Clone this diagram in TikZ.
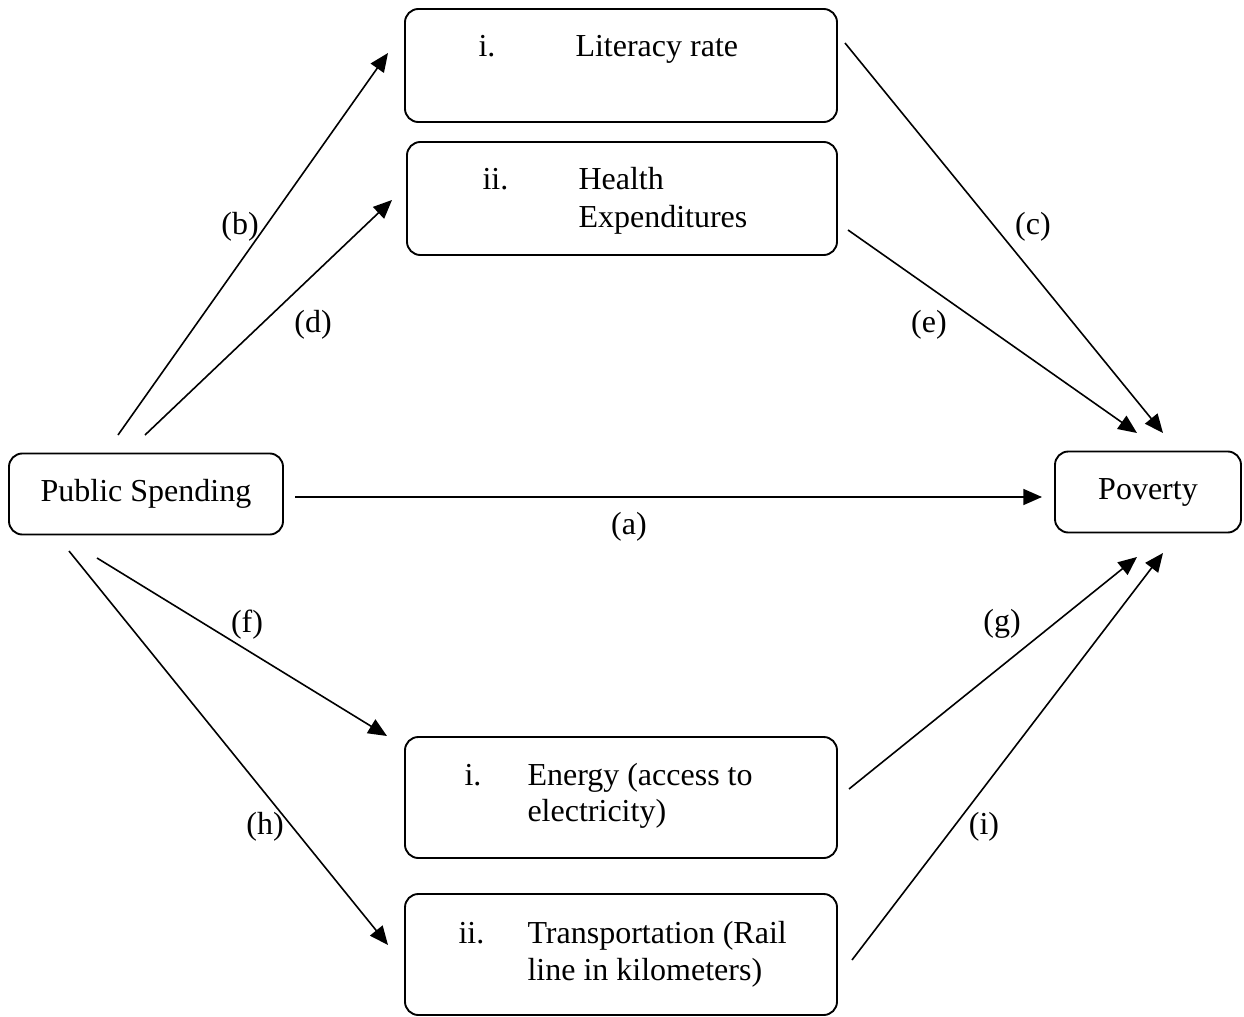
\documentclass[tikz,border=0pt]{standalone}
\usepackage{fontspec}
\setmainfont{Liberation Serif}
\usetikzlibrary{positioning, arrows.meta, fit}

\begin{document}
\begin{tikzpicture}[
  x=0.375pt, y=-0.375pt,
  box/.style={draw, rounded corners=5pt, line width=0.7pt, inner sep=0pt},
  item/.style={anchor=base west, inner sep=0pt, font=\fontsize{12}{14}\selectfont},
  plabel/.style={inner sep=0pt, font=\fontsize{12}{14}\selectfont},
  conn/.style={line width=0.6pt, -{Triangle[length=7pt, width=6pt]}},
]
\useasboundingbox (0,0) rectangle (1244,1017);

% main boxes
\node[box, plabel, minimum width={274*0.375pt}, minimum height={81*0.375pt}]
  (spend) at (146,494) {Public Spending};
\node[box, plabel, minimum width={186*0.375pt}, minimum height={81*0.375pt}]
  (pov) at (1148,492) {Poverty};

% channel boxes
\node[box, fit={(405,9) (837,122)}] (lit) {};
\node[box, fit={(407,142) (837,255)}] (health) {};
\node[box, fit={(405,737) (837,858)}] (energy) {};
\node[box, fit={(405,894) (837,1015)}] (trans) {};

\node[item] (litnum) at (478,57) {i.};
\node[item] (littxt) at (575,57) {Literacy rate};
\node[item] (healthnum) at (482,189) {ii.};
\node[item] (healthtxt) at (578,189) {Health};
\node[item] (healthtxtb) at (578,227) {Expenditures};
\node[item] (energynum) at (464,785) {i.};
\node[item] (energytxt) at (527,785) {Energy (access to};
\node[item] (energytxtb) at (527,821) {electricity)};
\node[item] (transnum) at (458,943) {ii.};
\node[item] (transtxt) at (527,943) {Transportation (Rail};
\node[item] (transtxtb) at (527,980) {line in kilometers)};

% arrow ends
\coordinate (a0) at (295,497);  \coordinate (a1) at (1042,497);
\coordinate (b0) at (118,435);  \coordinate (b1) at (388,53);
\coordinate (c0) at (845,43);   \coordinate (c1) at (1163,433);
\coordinate (d0) at (145,435);  \coordinate (d1) at (392,200);
\coordinate (e0) at (848,230);  \coordinate (e1) at (1137,433);
\coordinate (f0) at (97,558);   \coordinate (f1) at (387,736);
\coordinate (g0) at (849,789);  \coordinate (g1) at (1137,557);
\coordinate (h0) at (69,551);   \coordinate (h1) at (388,945);
\coordinate (i0) at (852,960);  \coordinate (i1) at (1163,553);

\draw[conn] (a0) -- (a1);
\draw[conn] (b0) -- (b1);
\draw[conn] (c0) -- (c1);
\draw[conn] (d0) -- (d1);
\draw[conn] (e0) -- (e1);
\draw[conn] (f0) -- (f1);
\draw[conn] (g0) -- (g1);
\draw[conn] (h0) -- (h1);
\draw[conn] (i0) -- (i1);

% path labels
\node[plabel] (la) at (629,527) {(a)};
\node[plabel] (lb) at (240,227) {(b)};
\node[plabel] (lc) at (1033,227) {(c)};
\node[plabel] (ld) at (313,325) {(d)};
\node[plabel] (le) at (929,325) {(e)};
\node[plabel] (lf) at (247,625) {(f)};
\node[plabel] (lg) at (1002,624) {(g)};
\node[plabel] (lh) at (265,827) {(h)};
\node[plabel] (li) at (984,827) {(i)};
\end{tikzpicture}
\end{document}
